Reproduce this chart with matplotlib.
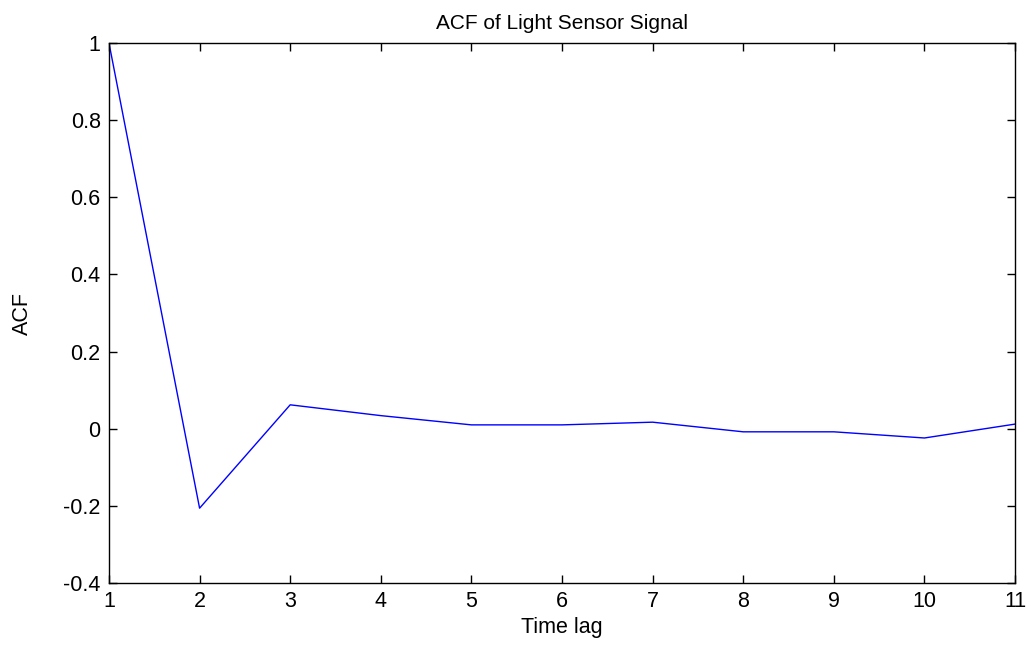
import matplotlib
matplotlib.use("Agg")
import matplotlib.pyplot as plt

lags = [1, 2, 3, 4, 5, 6, 7, 8, 9, 10, 11]
acf = [1.0, -0.206, 0.062, 0.034, 0.010, 0.010, 0.017, -0.008, -0.008, -0.024, 0.012]
xticks = [1, 2, 3, 4, 5, 6, 7, 8, 9, 10, 11]
yticks = [-0.4, -0.2, 0, 0.2, 0.4, 0.6, 0.8, 1]
ytick_labels = ["-0.4", "-0.2", "0", "0.2", "0.4", "0.6", "0.8", "1"]

plt.rcParams["font.family"] = ["Liberation Sans", "DejaVu Sans"]

fig = plt.figure(figsize=(10.31, 6.46), dpi=100)
ax = fig.add_axes([0.1057, 0.0975, 0.8788, 0.8359])

ax.plot(lags, acf, color="#0000ff", linewidth=1.0)

ax.set_xlim(1, 11)
ax.set_ylim(-0.4, 1)
ax.set_xticks(xticks)
ax.set_yticks(yticks)
ax.set_yticklabels(ytick_labels)
ax.tick_params(direction="in", length=6, width=1, labelsize=15.5,
               top=True, right=True, pad=6)
for s in ax.spines.values():
    s.set_linewidth(1.0)

ax.set_title("ACF of Light Sensor Signal", fontsize=15, pad=10)
ax.set_xlabel("Time lag", fontsize=15.5, labelpad=3)
ax.set_ylabel("ACF", fontsize=15.5, labelpad=22)

fig.savefig("out.png", dpi=100)
